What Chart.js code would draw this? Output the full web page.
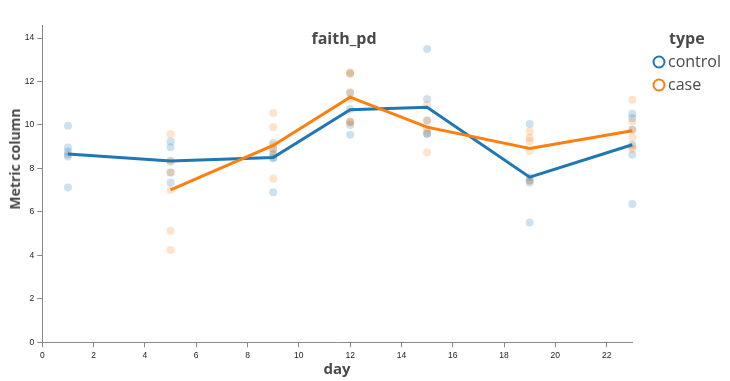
<!DOCTYPE html>
<html>
<head>
<meta charset="utf-8">
<script src="https://cdn.jsdelivr.net/npm/chart.js@4/dist/chart.umd.min.js"></script>
<style>
  html, body { margin: 0; padding: 0; background: #fff; }
  #wrap { position: relative; width: 730px; height: 381px; }
  canvas { position: absolute; left: 0; top: 0; }
  .lbl { position: absolute; font-family: "Open Sans", sans-serif; color: #4a4a4a; white-space: nowrap; line-height: 1; transform: translate(-50%, -50%); }
  .b { font-weight: bold; }
  .leg { position: absolute; font-family: "Open Sans", sans-serif; color: #4a4a4a; font-size: 16px; line-height: 1; white-space: nowrap; transform: translateY(-50%); }
  .sym { position: absolute; width: 9px; height: 9px; border-radius: 50%; border: 2px solid; transform: translate(-50%, -50%); }
</style>
</head>
<body>
<div id="wrap">
  <canvas id="c" width="730" height="381"></canvas>
  <div class="lbl b" style="left:344px; top:38px; font-size:16px;">faith_pd</div>
  <div class="lbl b" style="left:337px; top:368px; font-size:15px;">day</div>
  <div class="lbl b" style="left:15px; top:159px; font-size:14px; transform: translate(-50%, -50%) rotate(-90deg);">Metric column</div>
  <div class="leg b" style="left:669px; top:38px;">type</div>
  <div class="sym" style="left:659px; top:62px; border-color:#1f77b4;"></div>
  <div class="leg" style="left:668px; top:61px;">control</div>
  <div class="sym" style="left:659px; top:85px; border-color:#ff7f0e;"></div>
  <div class="leg" style="left:668px; top:84px;">case</div>
</div>
<script>
// ---- data ----
const days = [1, 5, 9, 12, 15, 19, 23];
const xTicks = [0, 2, 4, 6, 8, 10, 12, 14, 16, 18, 20, 22];
const yTicks = [0, 2, 4, 6, 8, 10, 12, 14];

// individual samples, per day (control)
const controlValues = [
  [9.96, 8.96, 8.78, 8.64, 8.55, 7.12],
  [9.24, 8.98, 8.35, 7.81, 7.35],
  [9.17, 8.9, 8.67, 8.5, 8.47, 6.91],
  [12.39, 11.47, 10.73, 10.16, 10.0, 9.55],
  [13.5, 11.19, 10.2, 9.6, 9.58],
  [10.05, 7.6, 7.44, 7.35, 5.51],
  [10.52, 10.32, 9.78, 9.09, 8.63, 6.36]
];
// individual samples, per day (case) – no case samples on day 1
const caseValues = [
  [],
  [9.58, 8.3, 7.81, 7.01, 5.13, 4.25],
  [10.55, 9.9, 9.05, 8.9, 8.63, 7.52],
  [12.42, 12.35, 11.5, 11.2, 10.15, 10.1],
  [10.93, 10.2, 9.85, 9.7, 8.73],
  [9.7, 9.4, 9.25, 8.8, 7.44],
  [11.16, 10.16, 9.78, 9.42, 9.0, 8.9]
];
// mean lines
const controlMean = [8.66, 8.34, 8.5, 10.7, 10.81, 7.6, 9.09];
const caseMean = [null, 7.01, 9.06, 11.28, 9.9, 8.92, 9.73];

const BLUE = '#1f77b4';
const ORANGE = '#ff7f0e';

function toPoints(groups) {
  const out = [];
  groups.forEach((vals, i) => vals.forEach(v => out.push({ x: days[i], y: v })));
  return out;
}
function toLine(means) {
  const out = [];
  means.forEach((v, i) => { if (v !== null) out.push({ x: days[i], y: v }); });
  return out;
}

new Chart(document.getElementById('c'), {
  type: 'scatter',
  data: {
    datasets: [
      { label: 'control pts', data: toPoints(controlValues), backgroundColor: 'rgba(31,119,180,0.22)', borderColor: 'rgba(31,119,180,0.22)', borderWidth: 0, pointRadius: 4, showLine: false, clip: false, order: 4 },
      { label: 'case pts', data: toPoints(caseValues), backgroundColor: 'rgba(255,127,14,0.22)', borderColor: 'rgba(255,127,14,0.22)', borderWidth: 0, pointRadius: 4, showLine: false, clip: false, order: 3 },
      { label: 'control', data: toLine(controlMean), borderColor: BLUE, backgroundColor: BLUE, borderWidth: 3, pointRadius: 0, showLine: true, tension: 0, clip: false, order: 2 },
      { label: 'case', data: toLine(caseMean), borderColor: ORANGE, backgroundColor: ORANGE, borderWidth: 3, pointRadius: 0, showLine: true, tension: 0, clip: false, order: 1 }
    ]
  },
  options: {
    responsive: false,
    devicePixelRatio: 1,
    animation: false,
    layout: { padding: { left: 0, top: 25, right: 97.7, bottom: 0 } },
    plugins: { legend: { display: false }, title: { display: false }, tooltip: { enabled: false } },
    scales: {
      x: {
        type: 'linear', min: 0, max: 23,
        afterFit: s => { s.height = 38.7; },
        afterBuildTicks: s => { s.ticks = xTicks.map(v => ({ value: v })); },
        ticks: { font: { family: 'Liberation Sans', size: 8.5 }, color: '#222', padding: 3, maxRotation: 0 },
        grid: { display: true, drawOnChartArea: false, drawTicks: true, tickLength: 5, color: '#888' },
        border: { display: true, color: '#888', width: 1 },
        title: { display: false }
      },
      y: {
        type: 'linear', min: 0, max: 14.6,
        afterFit: s => { s.width = 42.3; },
        afterBuildTicks: s => { s.ticks = yTicks.map(v => ({ value: v })); },
        ticks: { font: { family: 'Liberation Sans', size: 8.5 }, color: '#222', padding: 3 },
        grid: { display: true, drawOnChartArea: false, drawTicks: true, tickLength: 5, color: '#888' },
        border: { display: true, color: '#888', width: 1 },
        title: { display: false }
      }
    }
  }
});
</script>
</body>
</html>
